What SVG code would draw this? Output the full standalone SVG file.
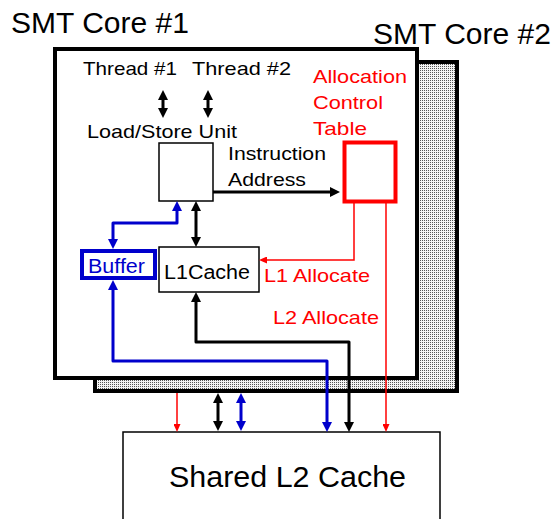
<svg xmlns="http://www.w3.org/2000/svg" width="556" height="519" viewBox="0 0 556 519">
<style>
.t{font-family:"Liberation Sans",Arial,sans-serif;fill:#000}
.r{fill:#ff0000}
.b{fill:#0000cc}
.k{fill:none;stroke:#000;stroke-width:3;stroke-linejoin:round}
.bl{fill:none;stroke:#0000cc;stroke-width:3;stroke-linejoin:round}
.rd{fill:none;stroke:#ff0000;stroke-width:1.5}
.box{fill:#fff;stroke:#000;stroke-width:1.5}
</style>
<defs>
<pattern id="dots" width="2" height="2" patternUnits="userSpaceOnUse">
<rect width="2" height="2" fill="#f4f4f4"/>
<rect width="1" height="1" fill="#555"/>
</pattern>
<marker id="mk" viewBox="0 0 10 10" refX="2" refY="5" markerWidth="10" markerHeight="10" markerUnits="userSpaceOnUse" orient="auto-start-reverse"><path d="M0,0 L10,5 L0,10 z" fill="#000"/></marker>
<marker id="mb" viewBox="0 0 10 10" refX="2" refY="5" markerWidth="10" markerHeight="10" markerUnits="userSpaceOnUse" orient="auto-start-reverse"><path d="M0,0 L10,5 L0,10 z" fill="#0000cc"/></marker>
<marker id="mr" viewBox="0 0 8 7" refX="1" refY="3.5" markerWidth="8" markerHeight="7" markerUnits="userSpaceOnUse" orient="auto-start-reverse"><path d="M0,0 L8,3.5 L0,7 z" fill="#ff0000"/></marker>
</defs>

<text class="t" x="11" y="33" font-size="29" textLength="178" lengthAdjust="spacingAndGlyphs">SMT Core #1</text>
<text class="t" x="373" y="44" font-size="29" textLength="178" lengthAdjust="spacingAndGlyphs">SMT Core #2</text>

<g id="core2"><rect x="95" y="62" width="362" height="329" fill="url(#dots)" stroke="#000" stroke-width="4"/></g>
<g id="core1"><rect x="55" y="49" width="362" height="329" fill="#fff" stroke="#000" stroke-width="4"/></g>

<g id="threads">
<text class="t" x="83" y="75" font-size="19" textLength="94" lengthAdjust="spacingAndGlyphs">Thread #1</text>
<text class="t" x="192" y="75" font-size="19" textLength="99" lengthAdjust="spacingAndGlyphs">Thread #2</text>
</g>

<g id="lsu">
<text class="t" x="87" y="138" font-size="19" textLength="150" lengthAdjust="spacingAndGlyphs">Load/Store Unit</text>
<rect class="box" x="159" y="143" width="54" height="58"/>
</g>
<g id="instr">
<text class="t" x="228" y="160" font-size="19" textLength="98" lengthAdjust="spacingAndGlyphs">Instruction</text>
<text class="t" x="228" y="186" font-size="19" textLength="78" lengthAdjust="spacingAndGlyphs">Address</text>
</g>

<g id="act">
<text class="t r" x="313" y="83" font-size="19" textLength="94" lengthAdjust="spacingAndGlyphs">Allocation</text>
<text class="t r" x="313" y="109" font-size="19" textLength="70" lengthAdjust="spacingAndGlyphs">Control</text>
<text class="t r" x="313" y="135" font-size="19" textLength="54" lengthAdjust="spacingAndGlyphs">Table</text>
<rect x="344.5" y="142.5" width="51" height="59" fill="#fff" stroke="#ff0000" stroke-width="4"/>
</g>

<g id="l1cache">
<rect class="box" x="159" y="247" width="100" height="45"/>
<text class="t" x="164" y="279" font-size="20" textLength="86" lengthAdjust="spacingAndGlyphs">L1Cache</text>
</g>

<g id="buffer">
<rect x="82" y="251" width="73" height="27" fill="#fff" stroke="#0000cc" stroke-width="4"/>
<text class="t b" x="88" y="273" font-size="20" textLength="57" lengthAdjust="spacingAndGlyphs">Buffer</text>
</g>

<g id="l2cache">
<rect class="box" x="123" y="432" width="317" height="100"/>
<text class="t" x="169" y="487" font-size="30" textLength="237" lengthAdjust="spacingAndGlyphs">Shared L2 Cache</text>
</g>

<g id="labels">
<text class="t r" x="264" y="282" font-size="19" textLength="106" lengthAdjust="spacingAndGlyphs">L1 Allocate</text>
<text class="t r" x="273" y="324" font-size="19" textLength="106" lengthAdjust="spacingAndGlyphs">L2 Allocate</text>
</g>

<g id="connectors">
<path class="k" d="M163,98 L163,110" marker-start="url(#mk)" marker-end="url(#mk)"/>
<path class="k" d="M208,98 L208,110" marker-start="url(#mk)" marker-end="url(#mk)"/>
<path class="k" d="M196,209 L196,239" marker-start="url(#mk)" marker-end="url(#mk)"/>
<path class="k" d="M213,192 L332,192" marker-end="url(#mk)"/>
<path class="bl" d="M177,209 L177,223 L113,223 L113,241" marker-start="url(#mb)" marker-end="url(#mb)"/>
<path class="bl" d="M113,288 L113,361 L327,361 L327,424" marker-start="url(#mb)" marker-end="url(#mb)"/>
<path class="k" d="M196,300 L196,342 L349,342 L349,424" marker-start="url(#mk)" marker-end="url(#mk)"/>
<path class="rd" d="M354,203 L354,260 L266,260" marker-end="url(#mr)"/>
<path class="rd" d="M386,203 L386,425" marker-end="url(#mr)"/>
<path class="rd" d="M177,393 L177,425" marker-end="url(#mr)"/>
<path class="k" d="M218,401 L218,423" marker-start="url(#mk)" marker-end="url(#mk)"/>
<path class="bl" d="M241,401 L241,423" marker-start="url(#mb)" marker-end="url(#mb)"/>
</g>
</svg>
